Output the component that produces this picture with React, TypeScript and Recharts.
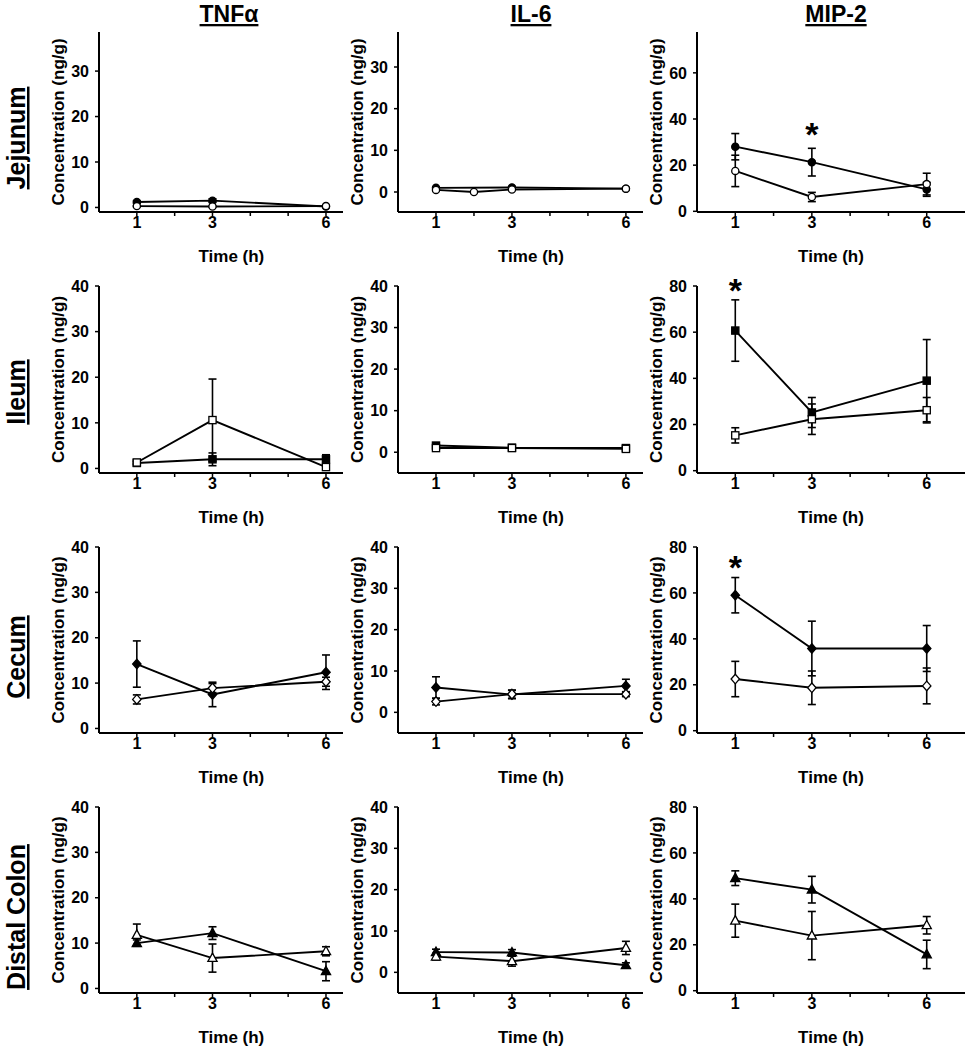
import React from "react";
import { LineChart, Line, XAxis, YAxis, ErrorBar, ReferenceDot } from "recharts";

const FONT = '"Liberation Sans", Arial, Helvetica, sans-serif';

const cytokines = ["TNFα", "IL-6", "MIP-2"];
const regions = ["Jejunum", "Ileum", "Cecum", "Distal Colon"];
const markers = ["circle", "square", "diamond", "triangle"];
const times = [1, 3, 6];
const jejIl6OpenTimes = [1, 2, 3, 6];

// means and SEM (ng/g)
const jejTnfFilled = [1.2, 1.5, 0.2];
const jejTnfFilledSem = [0.3, 0.4, 0.1];
const jejTnfOpen = [0.3, 0.2, 0.3];
const jejTnfOpenSem = [0.1, 0.1, 0.1];
const jejIl6Filled = [1.0, 1.1, 0.8];
const jejIl6FilledSem = [0.2, 0.2, 0.1];
const jejIl6Open = [0.5, 0.0, 0.6, 0.8];
const jejIl6OpenSem = [0.1, 0.1, 0.1, 0.1];
const jejMipFilled = [28, 21.3, 9.5];
const jejMipFilledSem = [5.7, 6, 3];
const jejMipOpen = [17.5, 6.2, 11.8];
const jejMipOpenSem = [6.8, 2, 4.7];

const ileTnfFilled = [1.2, 2.0, 2.0];
const ileTnfFilledSem = [0.3, 1.4, 1.0];
const ileTnfOpen = [1.3, 10.6, 0.3];
const ileTnfOpenSem = [0.3, 9, 0.2];
const ileIl6Filled = [1.6, 1.1, 1.0];
const ileIl6FilledSem = [0.3, 0.2, 0.2];
const ileIl6Open = [1.0, 1.0, 0.8];
const ileIl6OpenSem = [0.2, 0.2, 0.2];
const ileMipFilled = [60.7, 25.2, 39];
const ileMipFilledSem = [13.3, 6.5, 17.8];
const ileMipOpen = [15.3, 22.3, 26.2];
const ileMipOpenSem = [3.3, 6.6, 5.5];

const cecTnfFilled = [14.2, 7.5, 12.4];
const cecTnfFilledSem = [5.1, 2.7, 3.8];
const cecTnfOpen = [6.4, 8.9, 10.3];
const cecTnfOpenSem = [1.0, 1.0, 1.0];
const cecIl6Filled = [6.0, 4.3, 6.4];
const cecIl6FilledSem = [2.6, 1.0, 1.6];
const cecIl6Open = [2.6, 4.4, 4.4];
const cecIl6OpenSem = [0.8, 1.0, 0.6];
const cecMipFilled = [59, 35.8, 35.8];
const cecMipFilledSem = [7.7, 11.9, 10];
const cecMipOpen = [22.5, 18.7, 19.5];
const cecMipOpenSem = [7.7, 7.3, 7.8];

const dcoTnfFilled = [10, 12.2, 3.8];
const dcoTnfFilledSem = [0.7, 1.4, 2.1];
const dcoTnfOpen = [11.8, 6.7, 8.2];
const dcoTnfOpenSem = [2.4, 3.1, 1.0];
const dcoIl6Filled = [4.9, 4.8, 1.7];
const dcoIl6FilledSem = [0.7, 0.7, 0.6];
const dcoIl6Open = [3.8, 2.7, 5.9];
const dcoIl6OpenSem = [0.8, 1.2, 1.6];
const dcoMipFilled = [49, 44, 15.8];
const dcoMipFilledSem = [3.2, 5.8, 6.2];
const dcoMipOpen = [30.5, 24, 28.5];
const dcoMipOpenSem = [7.2, 10.5, 3.8];

// significance asterisks (row, column, time, y value)
const stars = [
  { row: 0, col: 2, t: 3, y: 35.5 },
  { row: 1, col: 2, t: 1, y: 80.6 },
  { row: 2, col: 2, t: 1, y: 73.5 },
];

const pts = (ts: number[], means: number[], sems: number[]) =>
  ts.map((t, i) => ({ t, v: means[i], e: sems[i] }));

// [row][col] -> [filled, open]
const panels = [
  [
    [pts(times, jejTnfFilled, jejTnfFilledSem), pts(times, jejTnfOpen, jejTnfOpenSem)],
    [pts(times, jejIl6Filled, jejIl6FilledSem), pts(jejIl6OpenTimes, jejIl6Open, jejIl6OpenSem)],
    [pts(times, jejMipFilled, jejMipFilledSem), pts(times, jejMipOpen, jejMipOpenSem)],
  ],
  [
    [pts(times, ileTnfFilled, ileTnfFilledSem), pts(times, ileTnfOpen, ileTnfOpenSem)],
    [pts(times, ileIl6Filled, ileIl6FilledSem), pts(times, ileIl6Open, ileIl6OpenSem)],
    [pts(times, ileMipFilled, ileMipFilledSem), pts(times, ileMipOpen, ileMipOpenSem)],
  ],
  [
    [pts(times, cecTnfFilled, cecTnfFilledSem), pts(times, cecTnfOpen, cecTnfOpenSem)],
    [pts(times, cecIl6Filled, cecIl6FilledSem), pts(times, cecIl6Open, cecIl6OpenSem)],
    [pts(times, cecMipFilled, cecMipFilledSem), pts(times, cecMipOpen, cecMipOpenSem)],
  ],
  [
    [pts(times, dcoTnfFilled, dcoTnfFilledSem), pts(times, dcoTnfOpen, dcoTnfOpenSem)],
    [pts(times, dcoIl6Filled, dcoIl6FilledSem), pts(times, dcoIl6Open, dcoIl6OpenSem)],
    [pts(times, dcoMipFilled, dcoMipFilledSem), pts(times, dcoMipOpen, dcoMipOpenSem)],
  ],
];

// layout
const colLeft = [99, 398, 697];
const colRight = [343, 643, 965];
const colXMax = [6.45, 6.45, 7];
const colTitleX = [229, 531, 836];
const rowTop = [32, 286, 547, 807];
const rowBottom = [212, 473, 733, 993];
const rowLabelY = [138, 392, 657, 917];
const Y_SPACE = 70;
const TOP_SPACE = 32;
const X_SPACE = 56;

const yDomain = (row: number, col: number): [number, number] => {
  if (row === 0) return col === 0 ? [-1, 38.6] : col === 1 ? [-4.8, 38.4] : [-0.3, 77.7];
  return col === 0 ? [-1, 40] : col === 1 ? [-5, 40] : [-1, 80];
};
const yTicks = (row: number, col: number) => {
  if (col === 2) return row === 0 ? [0, 20, 40, 60] : [0, 20, 40, 60, 80];
  return row === 0 ? [0, 10, 20, 30] : [0, 10, 20, 30, 40];
};

const Marker = ({ cx, cy, shape, filled }: any) => {
  if (cx == null || cy == null) return null;
  const p = { fill: filled ? "#000" : "#fff", stroke: "#000", strokeWidth: 1.3 };
  if (shape === "circle") return <circle cx={cx} cy={cy} r={3.6} {...p} />;
  if (shape === "square") return <rect x={cx - 3.6} y={cy - 3.6} width={7.2} height={7.2} {...p} />;
  if (shape === "diamond")
    return <polygon points={`${cx},${cy - 4.8} ${cx + 4.2},${cy} ${cx},${cy + 4.8} ${cx - 4.2},${cy}`} {...p} />;
  return <polygon points={`${cx},${cy - 5} ${cx + 4.6},${cy + 3.4} ${cx - 4.6},${cy + 3.4}`} {...p} />;
};

const YLabel = (props: any) => {
  const vb = props.viewBox || {};
  const cx = vb.x + vb.width - 41;
  const cy = vb.y + vb.height / 2;
  return (
    <text x={cx} y={cy} transform={`rotate(-90 ${cx} ${cy})`} textAnchor="middle" dominantBaseline="central"
      fontFamily={FONT} fontWeight={700} fontSize={17} fill="#000">
      Concentration (ng/g)
    </text>
  );
};

const XLabel = (props: any) => {
  const vb = props.viewBox || {};
  const cx = vb.x + (vb.width * 3.5) / props.xMax;
  return (
    <text x={cx} y={vb.y + 44} textAnchor="middle" dominantBaseline="central"
      fontFamily={FONT} fontWeight={700} fontSize={17} fill="#000">
      Time (h)
    </text>
  );
};

const Star = (props: any) => (
  <text x={props.cx} y={props.cy + 17} textAnchor="middle" fontFamily={FONT} fontWeight={700} fontSize={34} fill="#000">
    *
  </text>
);

const tickStyle = { fill: "#000", fontSize: 16, fontWeight: 700, fontFamily: FONT };

const Panel = ({ row, col }: { row: number; col: number }) => {
  const plotW = colRight[col] - colLeft[col];
  const plotH = rowBottom[row] - rowTop[row];
  const [filled, open] = panels[row][col];
  const shape = markers[row];
  const xMax = colXMax[col];
  return (
    <div style={{ position: "absolute", left: colLeft[col] - Y_SPACE, top: rowTop[row] - TOP_SPACE }}>
      <LineChart
        width={Y_SPACE + plotW + 4}
        height={TOP_SPACE + plotH + X_SPACE}
        margin={{ top: TOP_SPACE, right: 4, bottom: 0, left: 0 }}
      >
        <XAxis
          type="number"
          dataKey="t"
          domain={[0, xMax]}
          allowDataOverflow
          ticks={[1, 2, 3, 4, 5, 6]}
          tickFormatter={(v: number) => (v === 1 || v === 3 || v === 6 ? String(v) : "")}
          tick={tickStyle}
          tickSize={4}
          tickMargin={1}
          height={X_SPACE}
          axisLine={{ stroke: "#000", strokeWidth: 2 }}
          tickLine={{ stroke: "#000", strokeWidth: 1.5 }}
          label={<XLabel xMax={xMax} />}
        />
        <YAxis
          type="number"
          domain={yDomain(row, col)}
          allowDataOverflow
          ticks={yTicks(row, col)}
          tick={tickStyle}
          tickSize={4}
          tickMargin={6}
          width={Y_SPACE}
          axisLine={{ stroke: "#000", strokeWidth: 2 }}
          tickLine={{ stroke: "#000", strokeWidth: 1.5 }}
          label={<YLabel />}
        />
        <Line
          data={filled}
          dataKey="v"
          stroke="#000"
          strokeWidth={1.9}
          isAnimationActive={false}
          dot={(p: any) => <Marker key={`f${p.index}`} cx={p.cx} cy={p.cy} shape={shape} filled />}
        >
          <ErrorBar dataKey="e" direction="y" width={4} stroke="#000" strokeWidth={1.6} />
        </Line>
        <Line
          data={open}
          dataKey="v"
          stroke="#000"
          strokeWidth={1.9}
          isAnimationActive={false}
          dot={(p: any) => <Marker key={`o${p.index}`} cx={p.cx} cy={p.cy} shape={shape} filled={false} />}
        >
          <ErrorBar dataKey="e" direction="y" width={4} stroke="#000" strokeWidth={1.6} />
        </Line>
        {stars
          .filter((s) => s.row === row && s.col === col)
          .map((s, i) => (
            <ReferenceDot key={i} x={s.t} y={s.y} ifOverflow="visible" shape={<Star />} />
          ))}
      </LineChart>
    </div>
  );
};

export default function App() {
  return (
    <div style={{ position: "absolute", left: 0, top: 0, width: 970, height: 1050, background: "#fff" }}>
      <svg width={970} height={1050} style={{ position: "absolute", left: 0, top: 0 }}>
        {cytokines.map((c, i) => (
          <text key={c} x={colTitleX[i]} y={22} textAnchor="middle" fontFamily={FONT} fontWeight={700}
            fontSize={23} fill="#000" style={{ textDecoration: "underline" }}>
            {c}
          </text>
        ))}
        {regions.map((r, i) => (
          <text key={r} x={25} y={rowLabelY[i]} transform={`rotate(-90 25 ${rowLabelY[i]})`} textAnchor="middle"
            fontFamily={FONT} fontWeight={700} fontSize={25} fill="#000" style={{ textDecoration: "underline" }}>
            {r}
          </text>
        ))}
      </svg>
      {regions.map((_, row) => cytokines.map((__, col) => <Panel key={`${row}-${col}`} row={row} col={col} />))}
    </div>
  );
}
